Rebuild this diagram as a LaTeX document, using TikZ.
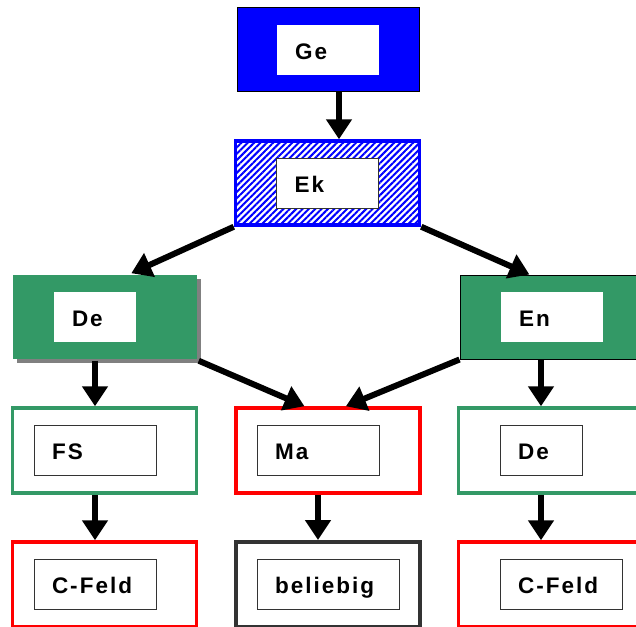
\documentclass[tikz,border=0pt]{standalone}
\usepackage{fontspec}
\newfontfamily\boxfont[LetterSpace=9]{Liberation Sans}
\usepackage{tikz}
\usetikzlibrary{arrows.meta, patterns.meta, shadows, positioning}
\definecolor{dgreen}{RGB}{51,153,102}
\definecolor{dgray}{RGB}{51,51,51}

\begin{document}
\begin{tikzpicture}[x=1pt, y=-1pt,
	outer/.style={rectangle, minimum width=184pt, minimum height=84pt, inner sep=0pt, line width=3.5pt},
	inner/.style={rectangle, fill=white, draw=dgray, line width=1pt,
		text width=#1, inner xsep=18pt, inner ysep=0pt, minimum height=50pt,
		text height=19pt, text depth=0pt,
		align=left, font=\boxfont\bfseries\fontsize{22.5}{26}\selectfont},
	link/.style={line width=6pt, -{Triangle[length=20pt,width=25pt]}}
]
	\clip (0,0) rectangle (636,626);

	% top
	\node[outer, fill=blue, draw=black, line width=1pt, minimum width=182pt, minimum height=83pt] (ge) at (328,49.5) {};
	\node[inner=66pt, draw=none] (gein) at (328,50) {Ge};

	\node[outer,
		draw=blue,
		fill=white,
		postaction={pattern={Lines[angle=45, distance=4.5pt, line width=2pt]}, pattern color=blue}
	] (ek) at (327.5,183) {};
	\node[inner=66pt] (ekin) at (327.5,183) {Ek};

	% second row
	\node[outer,
		fill=dgreen,
		drop shadow={shadow xshift=4pt, shadow yshift=-4pt, fill=gray, opacity=1}
	] (del) at (105,317) {};
	\node[inner=46pt, draw=none] (delin) at (95,317) {De};

	\node[outer, fill=dgreen, draw=black, line width=1pt] (en) at (552,317) {};
	\node[inner=66pt, draw=none] (enin) at (552,317) {En};

	% third row
	\node[outer, draw=dgreen, fill=white, minimum height=85pt] (fs) at (104.5,450.5) {};
	\node[inner=86pt] (fsin) at (95,450) {FS};

	\node[outer, draw=red, fill=white, minimum height=85pt] (ma) at (328,450.5) {};
	\node[inner=86pt] (main) at (318,450) {Ma};

	\node[outer, draw=dgreen, fill=white, minimum height=85pt] (der) at (550.5,450.5) {};
	\node[inner=46pt] (derin) at (541,450) {De};

	% bottom row
	\node[outer, draw=red, fill=white, minimum height=85pt] (cfl) at (104.5,584.5) {};
	\node[inner=86pt] (cflin) at (95,584) {C-Feld};

	\node[outer, draw=dgray, line width=4pt, fill=white, minimum height=85pt] (bel) at (328,584.5) {};
	\node[inner=106pt] (belin) at (328,584) {beliebig};

	\node[outer, draw=red, fill=white, minimum height=85pt] (cfr) at (550.5,584.5) {};
	\node[inner=86pt] (cfrin) at (561,584) {C-Feld};

	% arrows
	\draw[link] ([xshift=11pt]ge.south) -- ([xshift=11.5pt]ek.north);
	\draw[link] (ek.south west) -- (del.59);
	\draw[link] (ek.south east) -- (en.118);
	\draw[link] (del.south -| delin) -- (fs.north -| delin);
	\draw[link] (del.south east) -- (ma.118);
	\draw[link] (en.south west) -- (ma.68);
	\draw[link] (en.south -| derin) -- (der.north -| derin);
	\draw[link] (fs.south -| fsin) -- (cfl.north -| fsin);
	\draw[link] (ma.south -| main) -- (bel.north -| main);
	\draw[link] (der.south -| derin) -- (cfr.north -| derin);
\end{tikzpicture}
\end{document}
